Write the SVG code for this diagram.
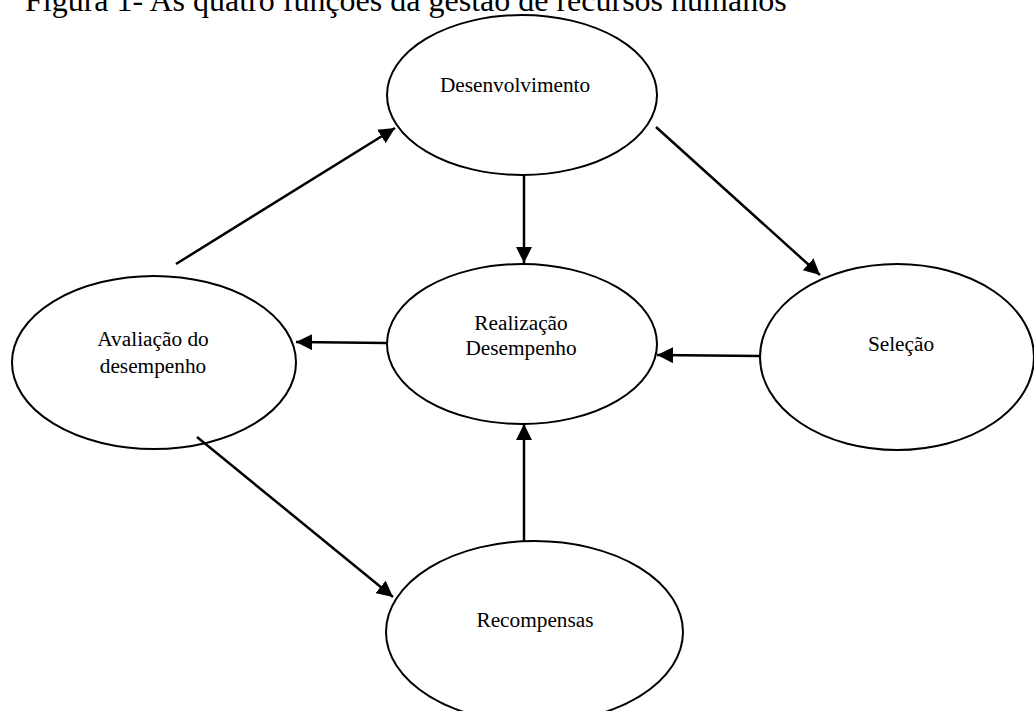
<svg xmlns="http://www.w3.org/2000/svg" width="1034" height="711" viewBox="0 0 1034 711">
<defs>
<style>
.node ellipse{fill:#fff;stroke:#000;stroke-width:2}
.lbl{font-family:"Liberation Serif","Times New Roman",serif;font-size:21.3px;fill:#000;text-anchor:middle}
.title{font-family:"Liberation Serif","Times New Roman",serif;font-size:32px;fill:#000}
#connectors line{stroke:#000;stroke-width:2.5;marker-end:url(#arrow)}
</style>
<marker id="arrow" markerUnits="userSpaceOnUse" markerWidth="18" markerHeight="16" refX="16" refY="8" orient="auto" viewBox="0 0 18 16">
<path d="M0,0 L16,8 L0,16 z" fill="#000"/>
</marker>
</defs>
<rect width="1034" height="711" fill="#fff"/>
<text class="title" x="25" y="11">Figura 1- As quatro funções da gestão de recursos humanos</text>
<g id="desenvolvimento" class="node">
<ellipse cx="522" cy="95" rx="135" ry="80"/>
<text class="lbl" x="515" y="92">Desenvolvimento</text>
</g>
<g id="realizacao" class="node">
<ellipse cx="522" cy="344" rx="135" ry="80"/>
<text class="lbl" x="521" y="330">Realização</text>
<text class="lbl" x="521" y="355">Desempenho</text>
</g>
<g id="avaliacao" class="node">
<ellipse cx="154" cy="362.5" rx="142" ry="86.5"/>
<text class="lbl" x="153" y="346">Avaliação do</text>
<text class="lbl" x="153" y="373">desempenho</text>
</g>
<g id="selecao" class="node">
<ellipse cx="897" cy="357" rx="137" ry="93"/>
<text class="lbl" x="901" y="351">Seleção</text>
</g>
<g id="recompensas" class="node">
<ellipse cx="534.5" cy="632" rx="148.5" ry="91"/>
<text class="lbl" x="535" y="627">Recompensas</text>
</g>
<g id="connectors">
<line x1="176" y1="264" x2="395" y2="128"/>
<line x1="524" y1="175" x2="524" y2="263"/>
<line x1="656" y1="127" x2="820" y2="275"/>
<line x1="760" y1="356" x2="657" y2="355"/>
<line x1="387" y1="343" x2="296" y2="342"/>
<line x1="197" y1="437" x2="393" y2="597"/>
<line x1="524" y1="541" x2="524" y2="424"/>
</g>
</svg>
